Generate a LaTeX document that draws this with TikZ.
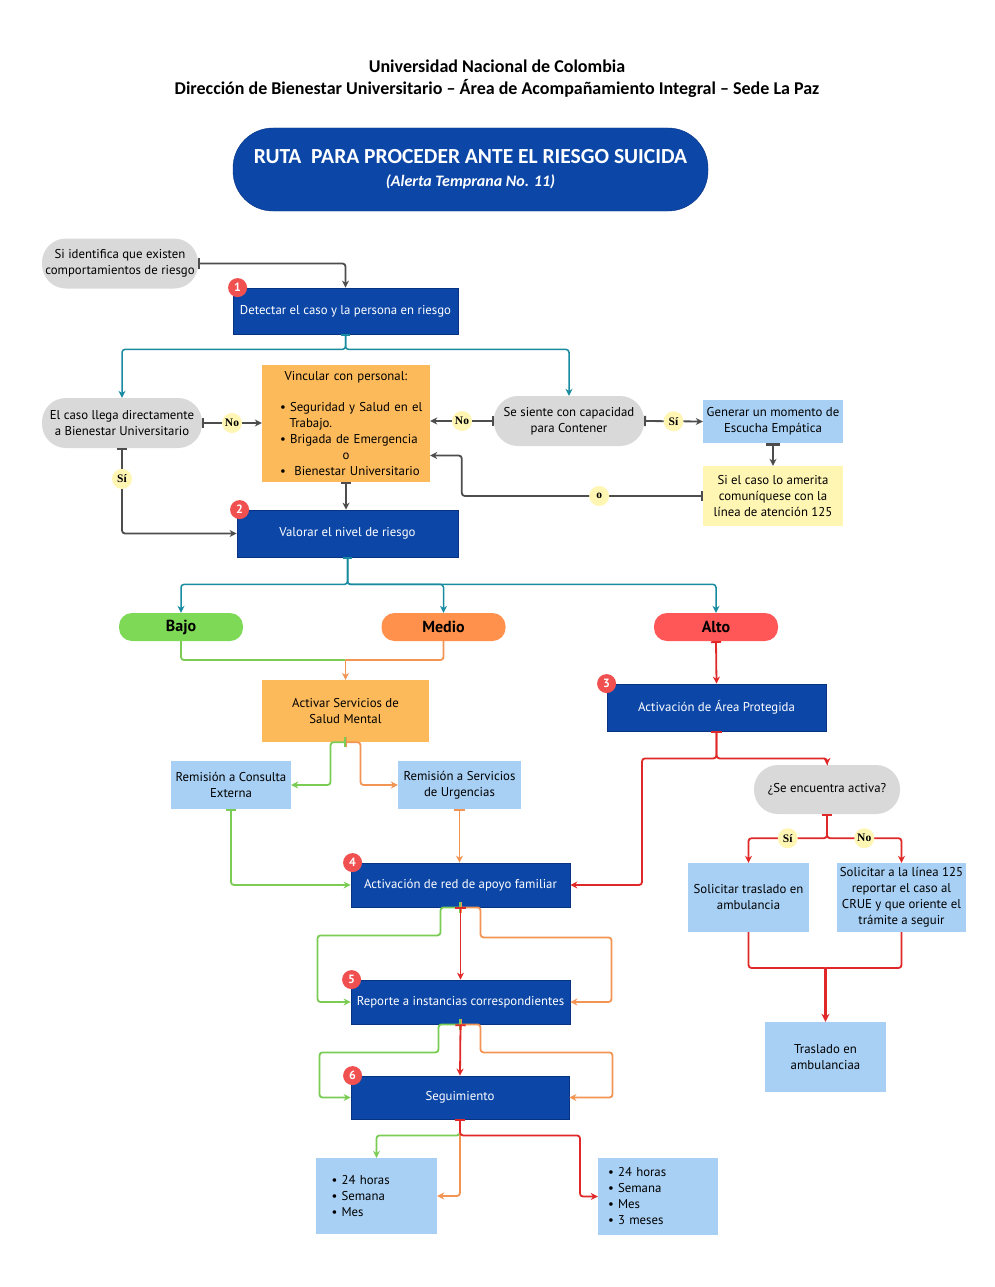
\documentclass[tikz,border=0pt]{standalone}
\usepackage{fontspec}
\setmainfont{PT Sans}
\newfontfamily\hdrfont{Carlito}
\newfontfamily\etqfont{Liberation Serif}
\usepackage{tikz}
\usetikzlibrary{arrows.meta}
\usetikzlibrary{positioning}

\definecolor{azul}{RGB}{12,71,168}
\definecolor{azulosc}{RGB}{8,50,130}
\definecolor{celeste}{RGB}{168,208,244}
\definecolor{grisclaro}{RGB}{217,217,217}
\definecolor{naranjaclaro}{RGB}{253,186,90}
\definecolor{amarillo}{RGB}{255,246,180}
\definecolor{verdebajo}{RGB}{126,217,87}
\definecolor{naranjamedio}{RGB}{255,145,77}
\definecolor{rojoalto}{RGB}{255,87,87}
\definecolor{lineagris}{RGB}{77,77,77}
\definecolor{lineateal}{RGB}{24,139,160}
\definecolor{lineaverde}{RGB}{122,204,84}
\definecolor{lineanaranja}{RGB}{242,148,84}
\definecolor{linearoja}{RGB}{224,40,40}
\definecolor{insignia}{RGB}{240,80,80}

\begin{document}
\begin{tikzpicture}[x=1pt, y=-1pt,
    every node/.style={font=\fontsize{12.8}{16}\selectfont},
    >={Stealth[length=7pt,width=7pt]},
    paso/.style={draw=azulosc, line width=0.8pt, fill=azul, text=white, minimum width=219pt, minimum height=45pt, inner sep=2pt},
    insig/.style={circle, fill=insignia, text=white, inner sep=0pt, minimum size=19pt, font=\bfseries\fontsize{12}{12}\selectfont},
    pildora/.style={fill=grisclaro, rounded corners=24pt, minimum height=50pt, align=center, inner sep=2pt},
    caja/.style={fill=celeste, align=center, inner sep=2pt},
    nivel/.style={rounded corners=13pt, minimum width=124pt, minimum height=28pt, font=\bfseries\fontsize{16}{16}\selectfont},
    etq/.style={circle, fill=amarillo, inner sep=0pt, minimum size=20pt, font=\etqfont\bfseries\fontsize{11.5}{11.5}\selectfont},
    con/.style={line width=1.8pt, rounded corners=3pt, |->},
    gris/.style={con, draw=lineagris},
    teal/.style={con, draw=lineateal, line width=1.5pt},
    verde/.style={con, draw=lineaverde},
    naranja/.style={con, draw=lineanaranja},
    roja/.style={con, draw=linearoja}]

\fill[white] (0,0) rectangle (995,1287);
\useasboundingbox (0,0) rectangle (995,1287);

% encabezado
\draw (497,79) node[align=center, font=\hdrfont\bfseries\fontsize{18}{22}\selectfont] (hdr)
    {Universidad Nacional de Colombia\\Dirección de Bienestar Universitario – Área de Acompañamiento Integral – Sede La Paz};
\draw (470.5,169.5) node[fill=azul, draw=azulosc, text=white, rounded corners=40pt, minimum width=475pt, minimum height=83pt, align=center, font=\hdrfont\bfseries\fontsize{21.5}{23}\selectfont] (titulo)
    {RUTA\ \ PARA PROCEDER ANTE EL RIESGO SUICIDA\\{\itshape\fontsize{16}{17}\selectfont (Alerta Temprana No. 11)}};

% primera parte
\draw (120,263.5) node[pildora, minimum width=156pt] (ident) {Si identifica que existen\\comportamientos de riesgo};
\draw (345.5,311) node[paso, minimum width=225pt, minimum height=46pt] (s1) {Detectar el caso y la persona en riesgo};
\draw (122,423) node[pildora, minimum width=160pt] (caso) {El caso llega directamente\\a Bienestar Universitario};
\draw (346,423.5) node[fill=naranjaclaro, minimum width=168pt, minimum height=117pt, text width=150pt, align=left, inner sep=2pt] (vinc)
    {\makebox[\linewidth][c]{Vincular con personal:}\\[15pt]
     \hspace*{9pt}\mbox{\textbullet\ Seguridad y Salud en el}\\
     \hspace*{9pt}\mbox{\hspace*{0.75em}Trabajo.}\\
     \hspace*{9pt}\mbox{\textbullet\ Brigada de Emergencia}\\
     \makebox[\linewidth][c]{o}\\
     \hspace*{9pt}\mbox{\textbullet\ \ Bienestar Universitario}};
\draw (569,421) node[pildora, minimum width=150pt] (siente) {Se siente con capacidad\\para Contener};
\draw (773,421.5) node[caja, minimum width=140pt, minimum height=43pt] (generar) {Generar un momento de\\Escucha Empática};
\draw (773,496) node[fill=amarillo, align=center, minimum width=140pt, minimum height=60pt, inner sep=2pt] (amerita)
    {Si el caso lo amerita\\comuníquese con la\\línea de atención 125};
\draw (347.5,533.5) node[paso, minimum width=221pt, minimum height=47pt] (s2) {Valorar el nivel de riesgo};

\draw[gris] (ident.east) -| (s1.north);
\draw[teal] (s1.south) -- ++(0,15) -| (caso.north);
\draw[teal] (s1.south) -- ++(0,15) -| (siente.north);
\draw[gris] (caso.east) -- node[etq] {No} (caso.east -| vinc.west);
\draw[gris] (siente.west) -- node[etq] {No} (siente.west -| vinc.east);
\draw[gris] (siente.east) -- node[etq] {Sí} (generar.west);
\draw[gris, line width=2.6pt] (generar.south) -- (amerita.north);
\draw[gris] (amerita.west) -- node[etq, pos=0.43] {o} ++(-241,0) |- ([yshift=-32pt]vinc.east);
\draw[gris] (vinc.south) -- (vinc.south |- s2.north);
\draw[gris] (caso.south) |- node[etq, pos=0.18] {Sí} (s2.west);

% niveles de riesgo
\draw (181,627) node[nivel, fill=verdebajo] (bajo) {Bajo};
\draw (443.5,627) node[nivel, fill=naranjamedio] (medio) {Medio};
\draw (716,627) node[nivel, fill=rojoalto] (alto) {Alto};

\draw[teal] (s2.south) -- ++(0,27) -| (bajo.north);
\draw[teal] (s2.south) -- ++(0,27) -| (medio.north);
\draw[teal] (s2.south) -- ++(0,27) -| (alto.north);

% rama baja y media
\coordinate (jb) at (345.5,660);
\draw (345.5,711) node[fill=naranjaclaro, align=center, minimum width=167pt, minimum height=62pt] (activar) {Activar Servicios de\\Salud Mental};
\draw (231,785) node[caja, minimum width=120pt, minimum height=48pt] (consulta) {Remisión a Consulta\\Externa};
\draw (459.5,785) node[caja, minimum width=123pt, minimum height=48pt] (urgencias) {Remisión a Servicios\\de Urgencias};
\draw (460.5,885) node[paso, minimum height=44pt] (s4) {Activación de red de apoyo familiar};

\draw[verde, -] (bajo.south) |- (jb);
\draw[naranja, -] (medio.south) |- (jb);
\draw[naranja, -{Stealth[length=7pt,width=7pt]}] (jb) -- (activar.north);
\draw[verde] (activar.south) -- ++(-15,0) |- (consulta.east);
\draw[naranja] (activar.south) -- ++(15,0) |- (urgencias.west);
\draw[verde] (consulta.south) |- (s4.west);
\draw[naranja] (urgencias.south) -- (urgencias.south |- s4.north);

% rama alta
\draw (716.5,707.5) node[paso, minimum height=47pt] (s3) {Activación de Área Protegida};
\draw (827,789.5) node[pildora, minimum width=146pt, minimum height=49pt] (activa) {¿Se encuentra activa?};
\draw (748.5,897.5) node[caja, minimum width=121pt, minimum height=69pt] (traslado) {Solicitar traslado en\\ambulancia};
\draw (901.5,897.5) node[caja, minimum width=129pt, minimum height=69pt] (linea) {Solicitar a la línea 125\\reportar el caso al\\CRUE y que oriente el\\trámite a seguir};
\draw (825.5,1057) node[caja, minimum width=121pt, minimum height=70pt] (ambul) {Traslado en\\ambulanciaa};
\coordinate (jr) at (825.5,968);

\draw[roja] (alto.south) -- (s3.north);
\draw[roja] (s3.south) -- ++(0,27) -- ++(-74.5,0) |- (s4.east);
\draw[roja] (s3.south) -- ++(0,27) -| (activa.north);
\draw[roja] (activa.south) -- ++(0,24) -- node[etq] {Sí} ++(-78.5,0) -- (traslado.north);
\draw[roja] (activa.south) -- ++(0,24) -- node[etq] {No} ++(74.5,0) -- (linea.north);
\draw[roja, -] (traslado.south) |- (jr);
\draw[roja, -] (linea.south) |- (jr);
\draw[roja, line width=2.4pt, -{Stealth[length=8pt,width=8pt]}] (jr) -- (ambul.north);

% reporte y seguimiento
\draw (460.5,1002) node[paso, minimum height=44pt] (s5) {Reporte a instancias correspondientes};
\draw (460,1097.5) node[paso, minimum width=218pt, minimum height=43pt] (s6) {Seguimiento};

\draw[verde] (s4.south) -- ++(-20,0) |- ++(-123,28) |- (s5.west);
\draw[naranja] (s4.south) -- ++(20,0) |- ++(131,30) |- (s5.east);
\draw[roja] (s4.south) -- (s5.north);
\draw[verde] (s5.south) -- ++(-22,0) |- ++(-119,28) |- (s6.west);
\draw[naranja] (s5.south) -- ++(20,0) |- ++(132,28) |- (s6.east);
\draw[roja] (s5.south) -- (s6.north);

\draw (376.5,1196) node[caja, minimum width=121pt, minimum height=76pt, text width=90pt, align=left] (lista1)
    {\textbullet\ 24 horas\\\textbullet\ Semana\\\textbullet\ Mes};
\draw (658,1196.5) node[caja, minimum width=120pt, minimum height=77pt, text width=100pt, align=left] (lista2)
    {\textbullet\ 24 horas\\\textbullet\ Semana\\\textbullet\ Mes\\\textbullet\ 3 meses};

\draw[verde] (s6.south) -- ++(0,16) -| (lista1.north);
\draw[naranja] (s6.south) |- (lista1.east);
\draw[roja] (s6.south) -- ++(0,16) -- ++(120,0) |- (lista2.west);

% insignias numeradas
\draw ([xshift=5pt]s1.north west) node[insig] (n1) {1};
\draw ([xshift=3pt]s2.north west) node[insig] (n2) {2};
\draw (s3.north west) node[insig] (n3) {3};
\draw ([xshift=2pt]s4.north west) node[insig] (n4) {4};
\draw ([xshift=1pt]s5.north west) node[insig] (n5) {5};
\draw ([xshift=2pt]s6.north west) node[insig] (n6) {6};

\end{tikzpicture}
\end{document}
